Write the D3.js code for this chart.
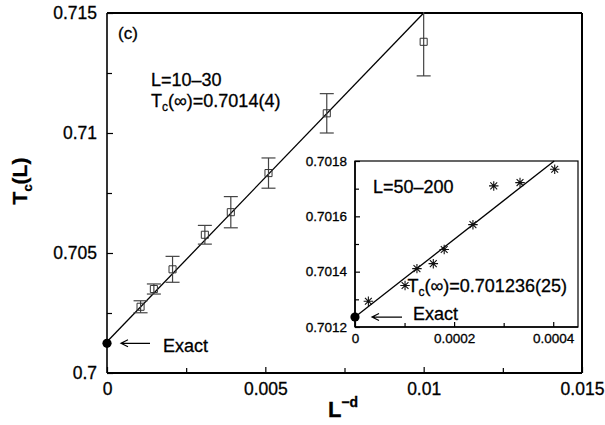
<!DOCTYPE html>
<html>
<head>
<meta charset="utf-8">
<script src="https://cdn.jsdelivr.net/npm/d3@7"></script>
<style>
  body { margin: 0; background: #fff; }
  svg { display: block; }
  text { font-family: "Liberation Sans", Arial, Helvetica, sans-serif; fill: #000; stroke: #000; stroke-width: 0.3px; }
</style>
</head>
<body>
<svg id="chart" width="605" height="425"></svg>
<script>
// Main panel: finite-size Tc(L) against L^-d for L = 10..30
const mainX   = [0.00106, 0.00148, 0.00207, 0.00309, 0.00391, 0.00510, 0.00694, 0.01000];
const mainT   = [0.70276, 0.70350, 0.70432, 0.70576, 0.70670, 0.70833, 0.71082, 0.71380];
const mainErr = [0.00025, 0.00021, 0.00054, 0.00039, 0.00065, 0.00063, 0.00082, 0.00142];
const mainFitIntercept = 0.7013;
const mainFitSlope = 1.37;
const mainFitX = [0, 0.01];

// Inset: L = 50..200
const insetX = [0.000027, 0.000101, 0.000125, 0.000158, 0.000180, 0.000238, 0.000280, 0.000333, 0.000403];
const insetT = [0.701293, 0.701350, 0.701411, 0.701429, 0.701480, 0.701570, 0.701710, 0.701722, 0.701770];
const insetFitIntercept = 0.701236;
const insetFitSlope = 1.403;
const insetFitX = [0, 0.000402];

// Exact critical temperature
const exactTc = 0.701236;

// Axis ticks
const mainXTicks = [0, 0.005, 0.01, 0.015];
const mainXMinor = [0.0025, 0.0075, 0.0125];
const mainYTicks = [0.7, 0.705, 0.71, 0.715];
const mainYMinor = [0.7025, 0.7075, 0.7125];
const insetXTicks = [0, 0.0002, 0.0004];
const insetXMinor = [0.0001, 0.0003];
const insetYTicks = [0.7012, 0.7014, 0.7016, 0.7018];
const insetYMinor = [0.7013, 0.7015, 0.7017];

const svg = d3.select("#chart");

// ---------- main panel ----------
const M = { left: 107, top: 13, right: 582, bottom: 373 };
const x = d3.scaleLinear().domain([0, 0.015]).range([M.left, M.right]);
const y = d3.scaleLinear().domain([0.7, 0.715]).range([M.bottom, M.top]);

svg.append("clipPath").attr("id", "mainClip")
  .append("rect").attr("x", M.left).attr("y", M.top - 1)
  .attr("width", M.right - M.left).attr("height", M.bottom - M.top + 1);

const fmt = d => String(d);

// major + minor ticks pointing inward
function axisGroup(axis, transform) {
  const g = svg.append("g").attr("transform", transform).call(axis);
  g.select(".domain").remove();
  return g;
}

const gx = axisGroup(d3.axisBottom(x).tickValues(mainXTicks).tickFormat(fmt).tickSize(-6).tickPadding(10),
  `translate(0,${M.bottom})`);
gx.selectAll("text").style("font-size", "17.5px");
axisGroup(d3.axisBottom(x).tickValues(mainXMinor).tickFormat("").tickSize(-5), `translate(0,${M.bottom})`);

const gy = axisGroup(d3.axisLeft(y).tickValues(mainYTicks).tickFormat(fmt).tickSize(-6).tickPadding(10),
  `translate(${M.left},0)`);
gy.selectAll("text").style("font-size", "17.5px");
axisGroup(d3.axisLeft(y).tickValues(mainYMinor).tickFormat("").tickSize(-5), `translate(${M.left},0)`);

svg.selectAll(".tick line").attr("stroke", "#000").attr("stroke-width", 1.2);

// frame
const frame = svg.append("g").attr("stroke", "#000").attr("fill", "none");
frame.append("line").attr("x1", M.left).attr("x2", M.left).attr("y1", M.top).attr("y2", M.bottom).attr("stroke-width", 1.6);
frame.append("line").attr("x1", M.left).attr("x2", M.right).attr("y1", M.bottom).attr("y2", M.bottom).attr("stroke-width", 2);
frame.append("line").attr("x1", M.left).attr("x2", M.right).attr("y1", M.top).attr("y2", M.top).attr("stroke-width", 2);
frame.append("line").attr("x1", M.right).attr("x2", M.right).attr("y1", M.top).attr("y2", M.bottom).attr("stroke-width", 2);

const plot = svg.append("g").attr("clip-path", "url(#mainClip)");

// fit line
plot.append("line")
  .attr("x1", x(mainFitX[0])).attr("y1", y(mainFitIntercept + mainFitSlope * mainFitX[0]))
  .attr("x2", x(mainFitX[1])).attr("y2", y(mainFitIntercept + mainFitSlope * mainFitX[1]))
  .attr("stroke", "#000").attr("stroke-width", 1.3);

// error bars
const mainData = mainX.map((v, i) => ({ x: v, t: mainT[i], e: mainErr[i] }));
const eb = plot.append("g").attr("stroke", "#444").attr("stroke-width", 1.2);
eb.selectAll(".bar").data(mainData).join("line")
  .attr("x1", d => x(d.x)).attr("x2", d => x(d.x))
  .attr("y1", d => y(d.t - d.e)).attr("y2", d => y(d.t + d.e));
eb.selectAll(".capTop").data(mainData).join("line")
  .attr("x1", d => x(d.x) - 7).attr("x2", d => x(d.x) + 7)
  .attr("y1", d => y(d.t + d.e)).attr("y2", d => y(d.t + d.e));
eb.selectAll(".capBot").data(mainData).join("line")
  .attr("x1", d => x(d.x) - 7).attr("x2", d => x(d.x) + 7)
  .attr("y1", d => y(d.t - d.e)).attr("y2", d => y(d.t - d.e));

// open squares
plot.selectAll(".sq").data(mainData).join("path")
  .attr("transform", d => `translate(${x(d.x)},${y(d.t)})`)
  .attr("d", d3.symbol().type(d3.symbolSquare).size(50))
  .attr("fill", "#fff").attr("fill-opacity", 0).attr("stroke", "#333").attr("stroke-width", 1);

// exact point
svg.append("circle").attr("cx", x(0)).attr("cy", y(exactTc)).attr("r", 4.6).attr("fill", "#000");

function arrow(g, x1, x2, yy) {
  g.append("path")
    .attr("d", `M${x2},${yy}L${x1},${yy}M${x1 + 7},${yy - 3.5}L${x1},${yy}L${x1 + 7},${yy + 3.5}`)
    .attr("stroke", "#000").attr("stroke-width", 1.2).attr("fill", "none");
}
arrow(svg, x(0) + 14, x(0) + 43, y(exactTc));
svg.append("text").attr("x", x(0) + 56).attr("y", y(exactTc) + 8.5)
  .style("font-size", "18px").text("Exact");

// annotations
svg.append("text").attr("x", 118).attr("y", 39).style("font-size", "17px").text("(c)");
svg.append("text").attr("x", 151).attr("y", 86).style("font-size", "18px").text("L=10\u201330");
const t1 = svg.append("text").attr("x", 151).attr("y", 106.5).style("font-size", "18px");
t1.append("tspan").text("T");
t1.append("tspan").attr("dy", 4).style("font-size", "12px").text("c");
t1.append("tspan").attr("dy", -4).text("(\u221e)=0.7014(4)");

// axis titles
const yl = svg.append("text").attr("transform", "translate(27,181) rotate(-90)")
  .attr("text-anchor", "middle").style("font-size", "21px").style("font-weight", "bold");
yl.append("tspan").text("T");
yl.append("tspan").attr("dy", 5).style("font-size", "13px").text("c");
yl.append("tspan").attr("dy", -5).text("(L)");

const xl = svg.append("text").attr("x", 343).attr("y", 417)
  .attr("text-anchor", "middle").style("font-size", "22px").style("font-weight", "bold");
xl.append("tspan").text("L");
xl.append("tspan").attr("dy", -10).style("font-size", "14px").text("\u2212d");

// ---------- inset ----------
const I = { left: 355, top: 161, right: 578, bottom: 327 };
const xi = d3.scaleLinear().domain([0, 0.00045]).range([I.left, I.right]);
const yi = d3.scaleLinear().domain([0.7012, 0.7018]).range([I.bottom, I.top]);

svg.append("rect").attr("x", I.left).attr("y", I.top)
  .attr("width", I.right - I.left).attr("height", I.bottom - I.top)
  .attr("fill", "#fff").attr("stroke", "#000").attr("stroke-width", 1.2);

const gxi = axisGroup(d3.axisBottom(xi).tickValues(insetXTicks).tickFormat(fmt).tickSize(-5).tickPadding(6),
  `translate(0,${I.bottom})`);
gxi.selectAll("text").style("font-size", "13.5px");
axisGroup(d3.axisBottom(xi).tickValues(insetXMinor).tickFormat("").tickSize(-4), `translate(0,${I.bottom})`);
const gyi = axisGroup(d3.axisLeft(yi).tickValues(insetYTicks).tickFormat(fmt).tickSize(-5).tickPadding(8),
  `translate(${I.left},0)`);
gyi.selectAll("text").style("font-size", "13.5px");
axisGroup(d3.axisLeft(yi).tickValues(insetYMinor).tickFormat("").tickSize(-4), `translate(${I.left},0)`);
svg.selectAll(".tick line").attr("stroke", "#000").attr("stroke-width", 1.2);

svg.append("line").attr("x1", I.left).attr("x2", I.right).attr("y1", I.bottom).attr("y2", I.bottom)
  .attr("stroke", "#000").attr("stroke-width", 1.6);
svg.append("line").attr("x1", I.left).attr("x2", I.left).attr("y1", I.top).attr("y2", I.bottom)
  .attr("stroke", "#000").attr("stroke-width", 1.6);

svg.append("line")
  .attr("x1", xi(insetFitX[0])).attr("y1", yi(insetFitIntercept + insetFitSlope * insetFitX[0]))
  .attr("x2", xi(insetFitX[1])).attr("y2", yi(insetFitIntercept + insetFitSlope * insetFitX[1]))
  .attr("stroke", "#000").attr("stroke-width", 1.3);

// eight-armed star marker
const symbolStar = {
  draw(ctx, size) {
    const r = Math.sqrt(size) / 2;
    const d = r * 0.72;
    ctx.moveTo(-r, 0); ctx.lineTo(r, 0);
    ctx.moveTo(0, -r); ctx.lineTo(0, r);
    ctx.moveTo(-d, -d); ctx.lineTo(d, d);
    ctx.moveTo(-d, d); ctx.lineTo(d, -d);
  }
};
const insetData = insetX.map((v, i) => ({ x: v, t: insetT[i] }));
svg.selectAll(".star").data(insetData).join("path")
  .attr("transform", d => `translate(${xi(d.x)},${yi(d.t)})`)
  .attr("d", d3.symbol().type(symbolStar).size(90))
  .attr("fill", "none").attr("stroke", "#111").attr("stroke-width", 1.1);

svg.append("circle").attr("cx", xi(0)).attr("cy", yi(exactTc)).attr("r", 4.6).attr("fill", "#000");
arrow(svg, xi(0) + 17, xi(0) + 47, yi(exactTc));
svg.append("text").attr("x", 413).attr("y", 320).style("font-size", "18px").text("Exact");

svg.append("text").attr("x", 373).attr("y", 193).style("font-size", "18px").text("L=50\u2013200");
const t2 = svg.append("text").attr("x", 407.5).attr("y", 291.5).style("font-size", "18px");
t2.append("tspan").text("T");
t2.append("tspan").attr("dy", 4).style("font-size", "12px").text("c");
t2.append("tspan").attr("dy", -4).text("(\u221e)=0.701236(25)");
</script>
</body>
</html>
